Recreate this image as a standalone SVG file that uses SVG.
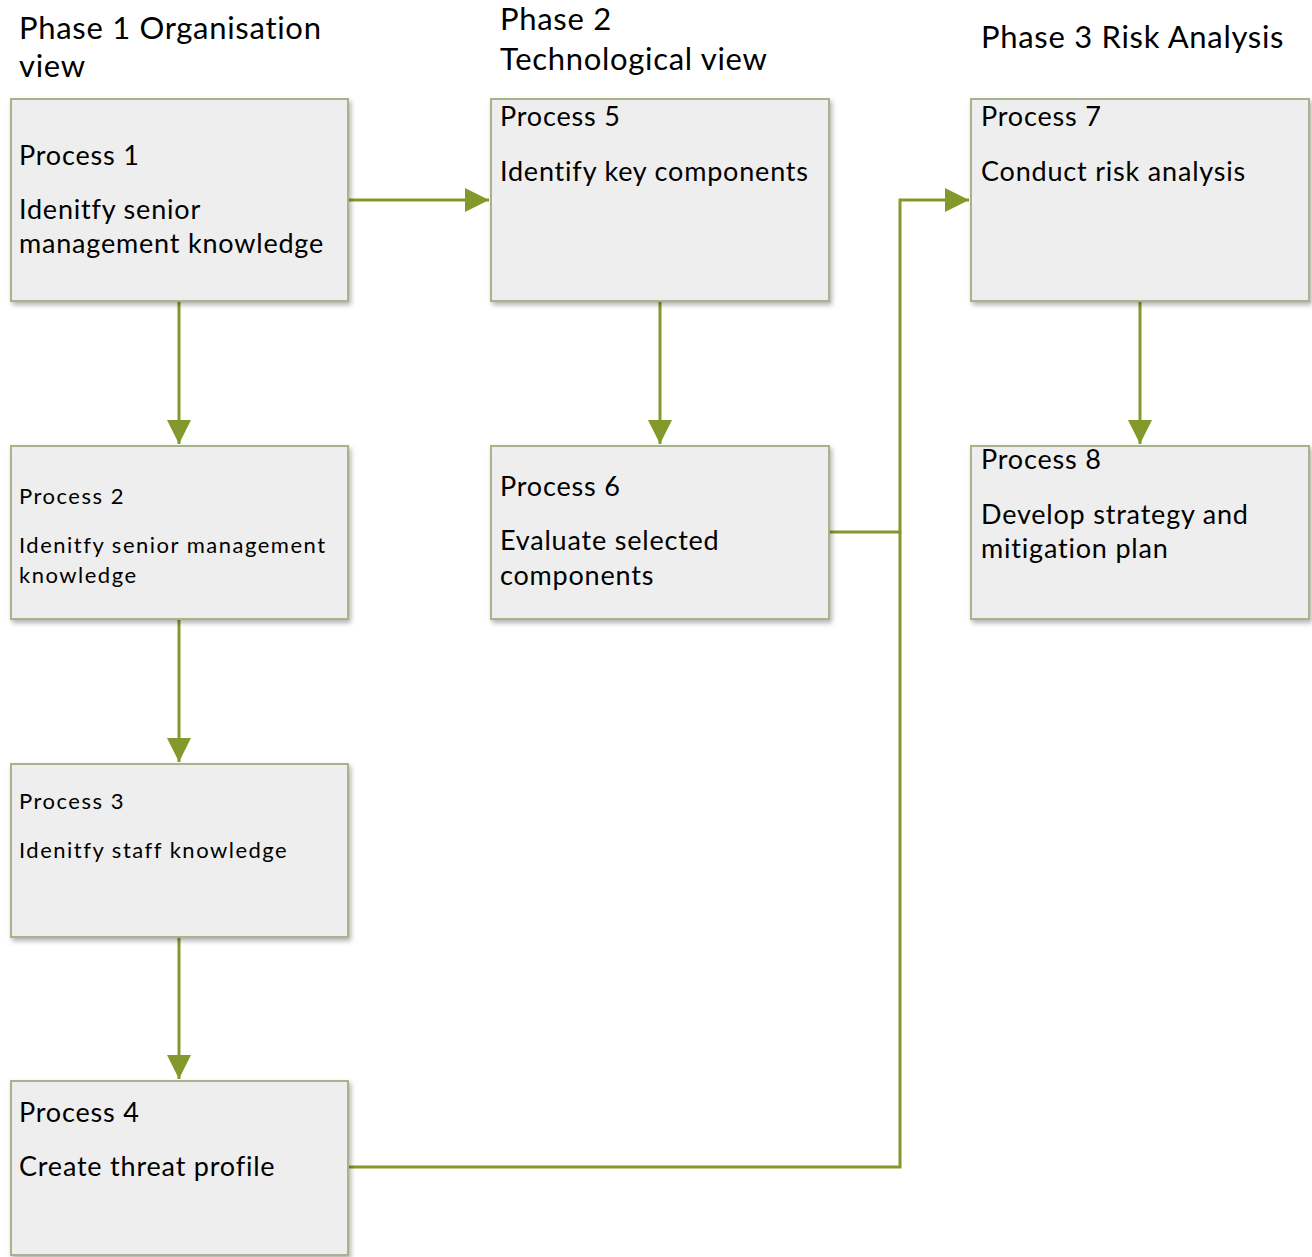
<svg xmlns="http://www.w3.org/2000/svg" width="1312" height="1257" viewBox="0 0 1312 1257">
<style>
.box{fill:#eeeeee;stroke:#a9b38a;stroke-width:2}
.t{font-family:Lato,"Liberation Sans",sans-serif;fill:#000}
.h{font-size:31px;letter-spacing:0.7px}
.m{font-size:27px;letter-spacing:0.8px}
.s{font-size:22px;letter-spacing:1.5px}
.c{fill:none;stroke:#84992b;stroke-width:3}
</style>
<defs>
<filter id="sh" x="-10%" y="-10%" width="130%" height="130%">
<feDropShadow dx="2" dy="3" stdDeviation="2.5" flood-color="#000" flood-opacity="0.3"/>
</filter>
<marker id="ah" markerWidth="8" markerHeight="8" refX="8" refY="4" orient="auto" markerUnits="strokeWidth" viewBox="0 0 8 8">
<path d="M0,0 L8,4 L0,8 Z" fill="#84992b"/>
</marker>
</defs>
<g id="titles">
<text class="t h" x="19" y="39">Phase 1 Organisation</text>
<text class="t h" x="19" y="77">view</text>
<text class="t h" x="500" y="30">Phase 2</text>
<text class="t h" x="500" y="70">Technological view</text>
<text class="t h" x="981" y="48">Phase 3 Risk Analysis</text>
</g>
<g id="connectors">
<path class="c" d="M348,200 H489" marker-end="url(#ah)"/>
<path class="c" d="M179,301 V444" marker-end="url(#ah)"/>
<path class="c" d="M179,619 V762" marker-end="url(#ah)"/>
<path class="c" d="M179,937 V1079" marker-end="url(#ah)"/>
<path class="c" d="M660,301 V444" marker-end="url(#ah)"/>
<path class="c" d="M1140,301 V444" marker-end="url(#ah)"/>
<path class="c" d="M829,532 H900 V200 H969" marker-end="url(#ah)"/>
<path class="c" d="M348,1167 H900 V532"/>
</g>
<g id="process1"><rect class="box" filter="url(#sh)" x="11" y="99" width="337" height="202"/>
<text class="t m" x="19" y="165">Process 1</text>
<text class="t m" x="19" y="219">Idenitfy senior</text>
<text class="t m" x="19" y="253">management knowledge</text></g>
<g id="process5"><rect class="box" filter="url(#sh)" x="491" y="99" width="338" height="202"/>
<text class="t m" x="500" y="126">Process 5</text>
<text class="t m" x="500" y="181">Identify key components</text></g>
<g id="process7"><rect class="box" filter="url(#sh)" x="971" y="99" width="338" height="202"/>
<text class="t m" x="981" y="126">Process 7</text>
<text class="t m" x="981" y="181">Conduct risk analysis</text></g>
<g id="process2"><rect class="box" filter="url(#sh)" x="11" y="446" width="337" height="173"/>
<text class="t s" x="19" y="504">Process 2</text>
<text class="t s" x="19" y="553">Idenitfy senior management</text>
<text class="t s" x="19" y="583">knowledge</text></g>
<g id="process6"><rect class="box" filter="url(#sh)" x="491" y="446" width="338" height="173"/>
<text class="t m" x="500" y="496">Process 6</text>
<text class="t m" x="500" y="550">Evaluate selected</text>
<text class="t m" x="500" y="585">components</text></g>
<g id="process8"><rect class="box" filter="url(#sh)" x="971" y="446" width="338" height="173"/>
<text class="t m" x="981" y="469">Process 8</text>
<text class="t m" x="981" y="524">Develop strategy and</text>
<text class="t m" x="981" y="558">mitigation plan</text></g>
<g id="process3"><rect class="box" filter="url(#sh)" x="11" y="764" width="337" height="173"/>
<text class="t s" x="19" y="809">Process 3</text>
<text class="t s" x="19" y="858">Idenitfy staff knowledge</text></g>
<g id="process4"><rect class="box" filter="url(#sh)" x="11" y="1081" width="337" height="174"/>
<text class="t m" x="19" y="1122">Process 4</text>
<text class="t m" x="19" y="1176">Create threat profile</text></g>
</svg>
